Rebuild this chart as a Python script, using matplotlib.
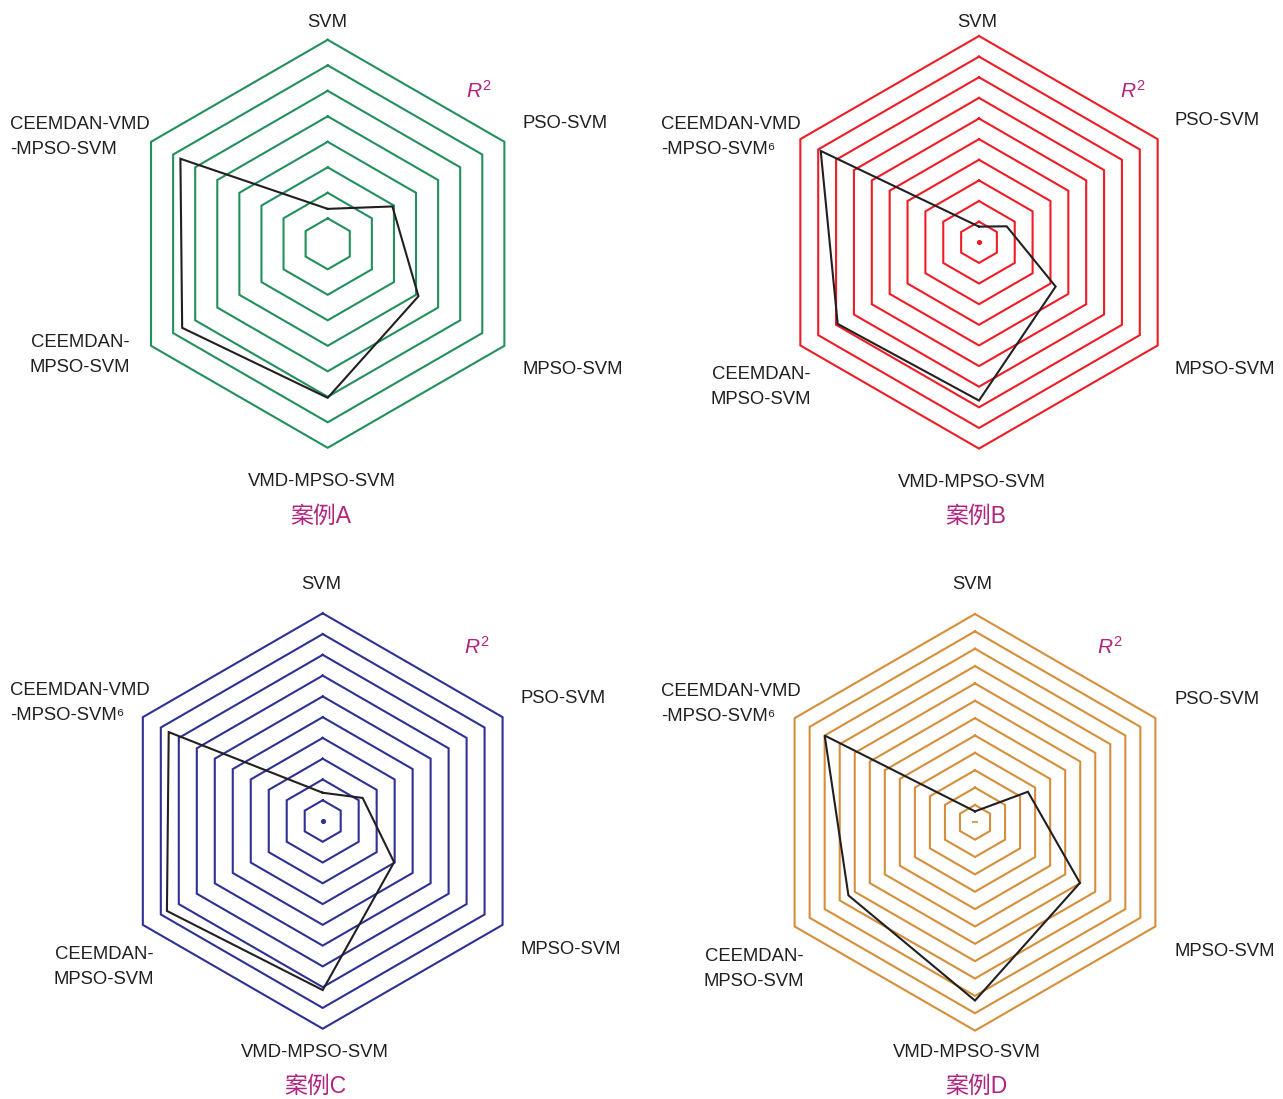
import numpy as np
import matplotlib
matplotlib.use("Agg")
import matplotlib.pyplot as plt

plt.rcParams['font.family'] = ['Liberation Sans', 'DejaVu Sans']
plt.rcParams['mathtext.fontset'] = 'custom'
plt.rcParams['mathtext.rm'] = 'Liberation Sans'
plt.rcParams['mathtext.it'] = 'Liberation Sans:italic'

W, H = 1283, 1099

# model axes, clockwise from the top
models = ['SVM', 'PSO-SVM', 'MPSO-SVM', 'VMD-MPSO-SVM',
          'CEEMDAN-MPSO-SVM', 'CEEMDAN-VMD-MPSO-SVM']
angles = np.deg2rad([90, 30, -30, -90, -150, 150])

cases = ['A', 'B', 'C', 'D']
ring_counts = [8, 10, 10, 12]

# R2 scores, in grid-ring units
r2_a = [1.37, 2.93, 4.11, 6.04, 6.59, 6.67]
r2_b = [0.76, 1.55, 4.29, 7.67, 7.91, 8.86]
r2_c = [1.36, 2.22, 3.97, 8.14, 8.66, 8.56]
r2_d = [0.63, 3.52, 6.98, 10.27, 8.42, 10.00]
scores = [r2_a, r2_b, r2_c, r2_d]

grid_colors = ['#23905c', '#ee1c25', '#2e3192', '#d58e3a']
magenta = '#b0247f'
ink = '#231f20'

# panel centre / outer radius in pixels
panels = [
    dict(cx=327.7, cy=243.8, R=204.0,
         top=(327, 20), pso=(522, 121), mpso=(522, 367), vmd=(322, 479),
         cm=(80, 340), cv=(10, 122), sup=False, r2=(479, 88), cap=(321, 514)),
    dict(cx=979.0, cy=242.3, R=206.3,
         top=(977, 20), pso=(1175, 118), mpso=(1175, 367), vmd=(972, 480),
         cm=(761, 372), cv=(661, 122), sup=True, r2=(1133, 88), cap=(976, 514)),
    dict(cx=322.7, cy=821.0, R=207.7,
         top=(321, 582), pso=(520, 696), mpso=(520, 947), vmd=(315, 1050),
         cm=(104, 952), cv=(10, 688), sup=True, r2=(477, 644), cap=(315, 1084)),
    dict(cx=975.0, cy=822.3, R=208.3,
         top=(972, 582), pso=(1174, 697), mpso=(1174, 949), vmd=(967, 1050),
         cm=(754, 954), cv=(661, 689), sup=True, r2=(1110, 644), cap=(976, 1084)),
]

fig = plt.figure(figsize=(W / 100, H / 100), dpi=100)


def ftext(x, y, s, **kw):
    # y is given in pixels from the top; nudge down to sit on the cap-height centre
    return fig.text(x / W, 1 - (y + 2.5) / H, s, **kw)


label_kw = dict(fontsize=13.3, color=ink, va='center')
gap = 25

for case, n, vals, col, p in zip(cases, ring_counts, scores, grid_colors, panels):
    ax = fig.add_axes([0, 0, 1, 1])
    ax.set_xlim(-p['cx'] / p['R'] * n, (W - p['cx']) / p['R'] * n)
    ax.set_ylim(-(H - p['cy']) / p['R'] * n, p['cy'] / p['R'] * n)
    ax.axis('off')
    ax.patch.set_alpha(0)

    ca, sa = np.cos(angles), np.sin(angles)
    # hexagonal grid rings
    for k in range(1, n + 1):
        ax.plot(np.append(k * ca, k * ca[0]), np.append(k * sa, k * sa[0]),
                color=col, lw=1.5, solid_joinstyle='miter')
    if n > 8:
        ax.plot([0], [0], marker='o' if case != 'D' else '_', ms=2.5 if case != 'D' else 4,
                color=col, mew=1.2)

    v = np.array(vals)
    ax.plot(np.append(v * ca, v[0] * ca[0]), np.append(v * sa, v[0] * sa[0]),
            color=ink, lw=1.5, solid_joinstyle='miter')

    ftext(*p['top'], models[0], ha='center', **label_kw)
    ftext(*p['pso'], models[1], ha='left', **label_kw)
    ftext(*p['mpso'], models[2], ha='left', **label_kw)
    ftext(*p['vmd'], models[3], ha='center', **label_kw)
    x, y = p['cm']
    ftext(x, y, 'CEEMDAN-', ha='center', **label_kw)
    ftext(x, y + gap, 'MPSO-SVM', ha='center', **label_kw)
    x, y = p['cv']
    ftext(x, y, 'CEEMDAN-VMD', ha='left', **label_kw)
    ftext(x, y + gap, '-MPSO-SVM' + ('\u2076' if p['sup'] else ''), ha='left', **label_kw)

    ftext(*p['r2'], r'$R^{\mathrm{2}}$', ha='center', va='center',
          fontsize=15, color=magenta)
    ftext(*p['cap'], '案例' + case, ha='center', va='center', fontsize=16.5,
          color=magenta, family=['Liberation Sans', 'Noto Sans CJK SC'])

fig.savefig('out.png', dpi=100)
